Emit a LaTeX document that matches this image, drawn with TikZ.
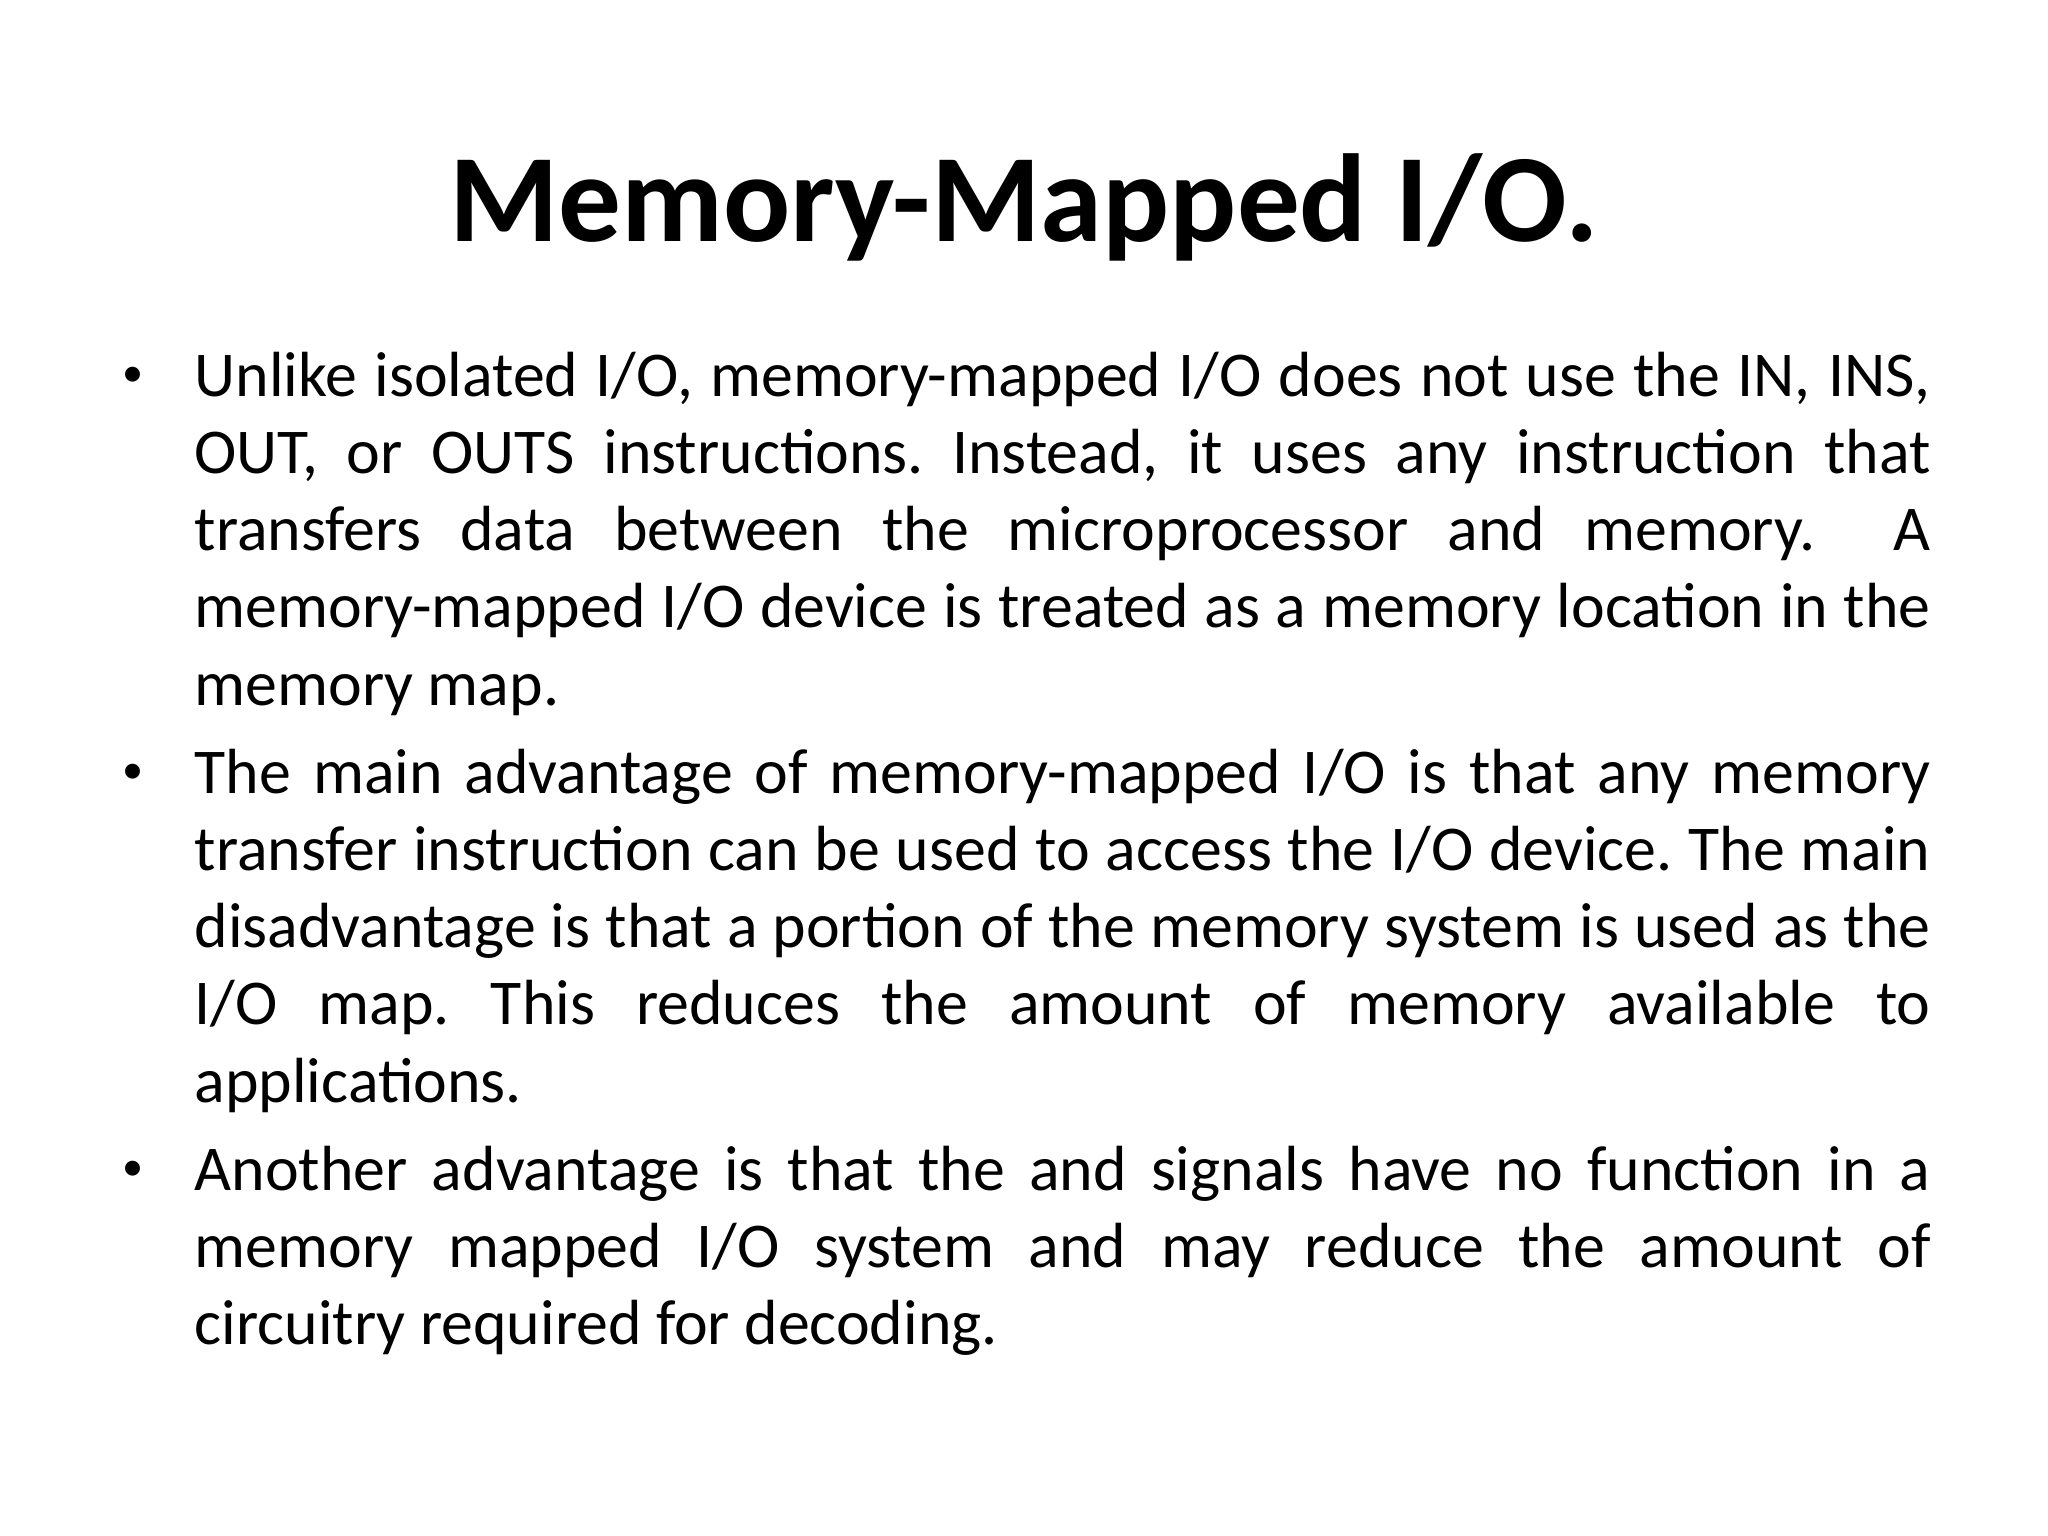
\documentclass[tikz,border=0pt]{standalone}
\usepackage{fontspec}
\setmainfont{Carlito}
\frenchspacing
\begin{document}
\begin{tikzpicture}[x=0.01cm,y=-0.01cm,
  para/.style={anchor=north west,inner sep=0pt,text width=17.35cm,align=justify,font=\fontsize{18.15}{21.9}\selectfont},
  bul/.style={anchor=base,inner sep=0pt,font=\fontsize{12}{14}\selectfont}]
\useasboundingbox (0,0) rectangle (2048,1536);
\node[anchor=base,inner sep=0pt,font=\fontsize{35.6}{42}\selectfont\bfseries] (title) at (1024,241) {Memory-Mapped I/O.};
\node[para] (p1) at (194,347) {\rule{0pt}{14pt}Unlike isolated I/O, memory-mapped I/O does not use the IN, INS,\linebreak OUT, or OUTS instructions. Instead, it uses any instruction that\linebreak transfers data between the microprocessor and memory.\ \ A\linebreak memory-mapped I/O device is treated as a memory location in the\linebreak memory map.};
\node[para] (p2) at (194,744) {\rule{0pt}{14pt}The main advantage of memory-mapped I/O is that any memory\linebreak transfer instruction can be used to access the I/O device. The main\linebreak disadvantage is that a portion of the memory system is used as the\linebreak I/O map. This reduces the amount of memory available to\linebreak applications.};
\node[para] (p3) at (194,1141) {\rule{0pt}{14pt}Another advantage is that the and signals have no function in a\linebreak memory mapped I/O system and may reduce the amount of\linebreak circuitry required for decoding.};
\node[bul] (b1) at (133,386) {•};
\node[bul] (b2) at (133,783) {•};
\node[bul] (b3) at (133,1180) {•};
\end{tikzpicture}
\end{document}
